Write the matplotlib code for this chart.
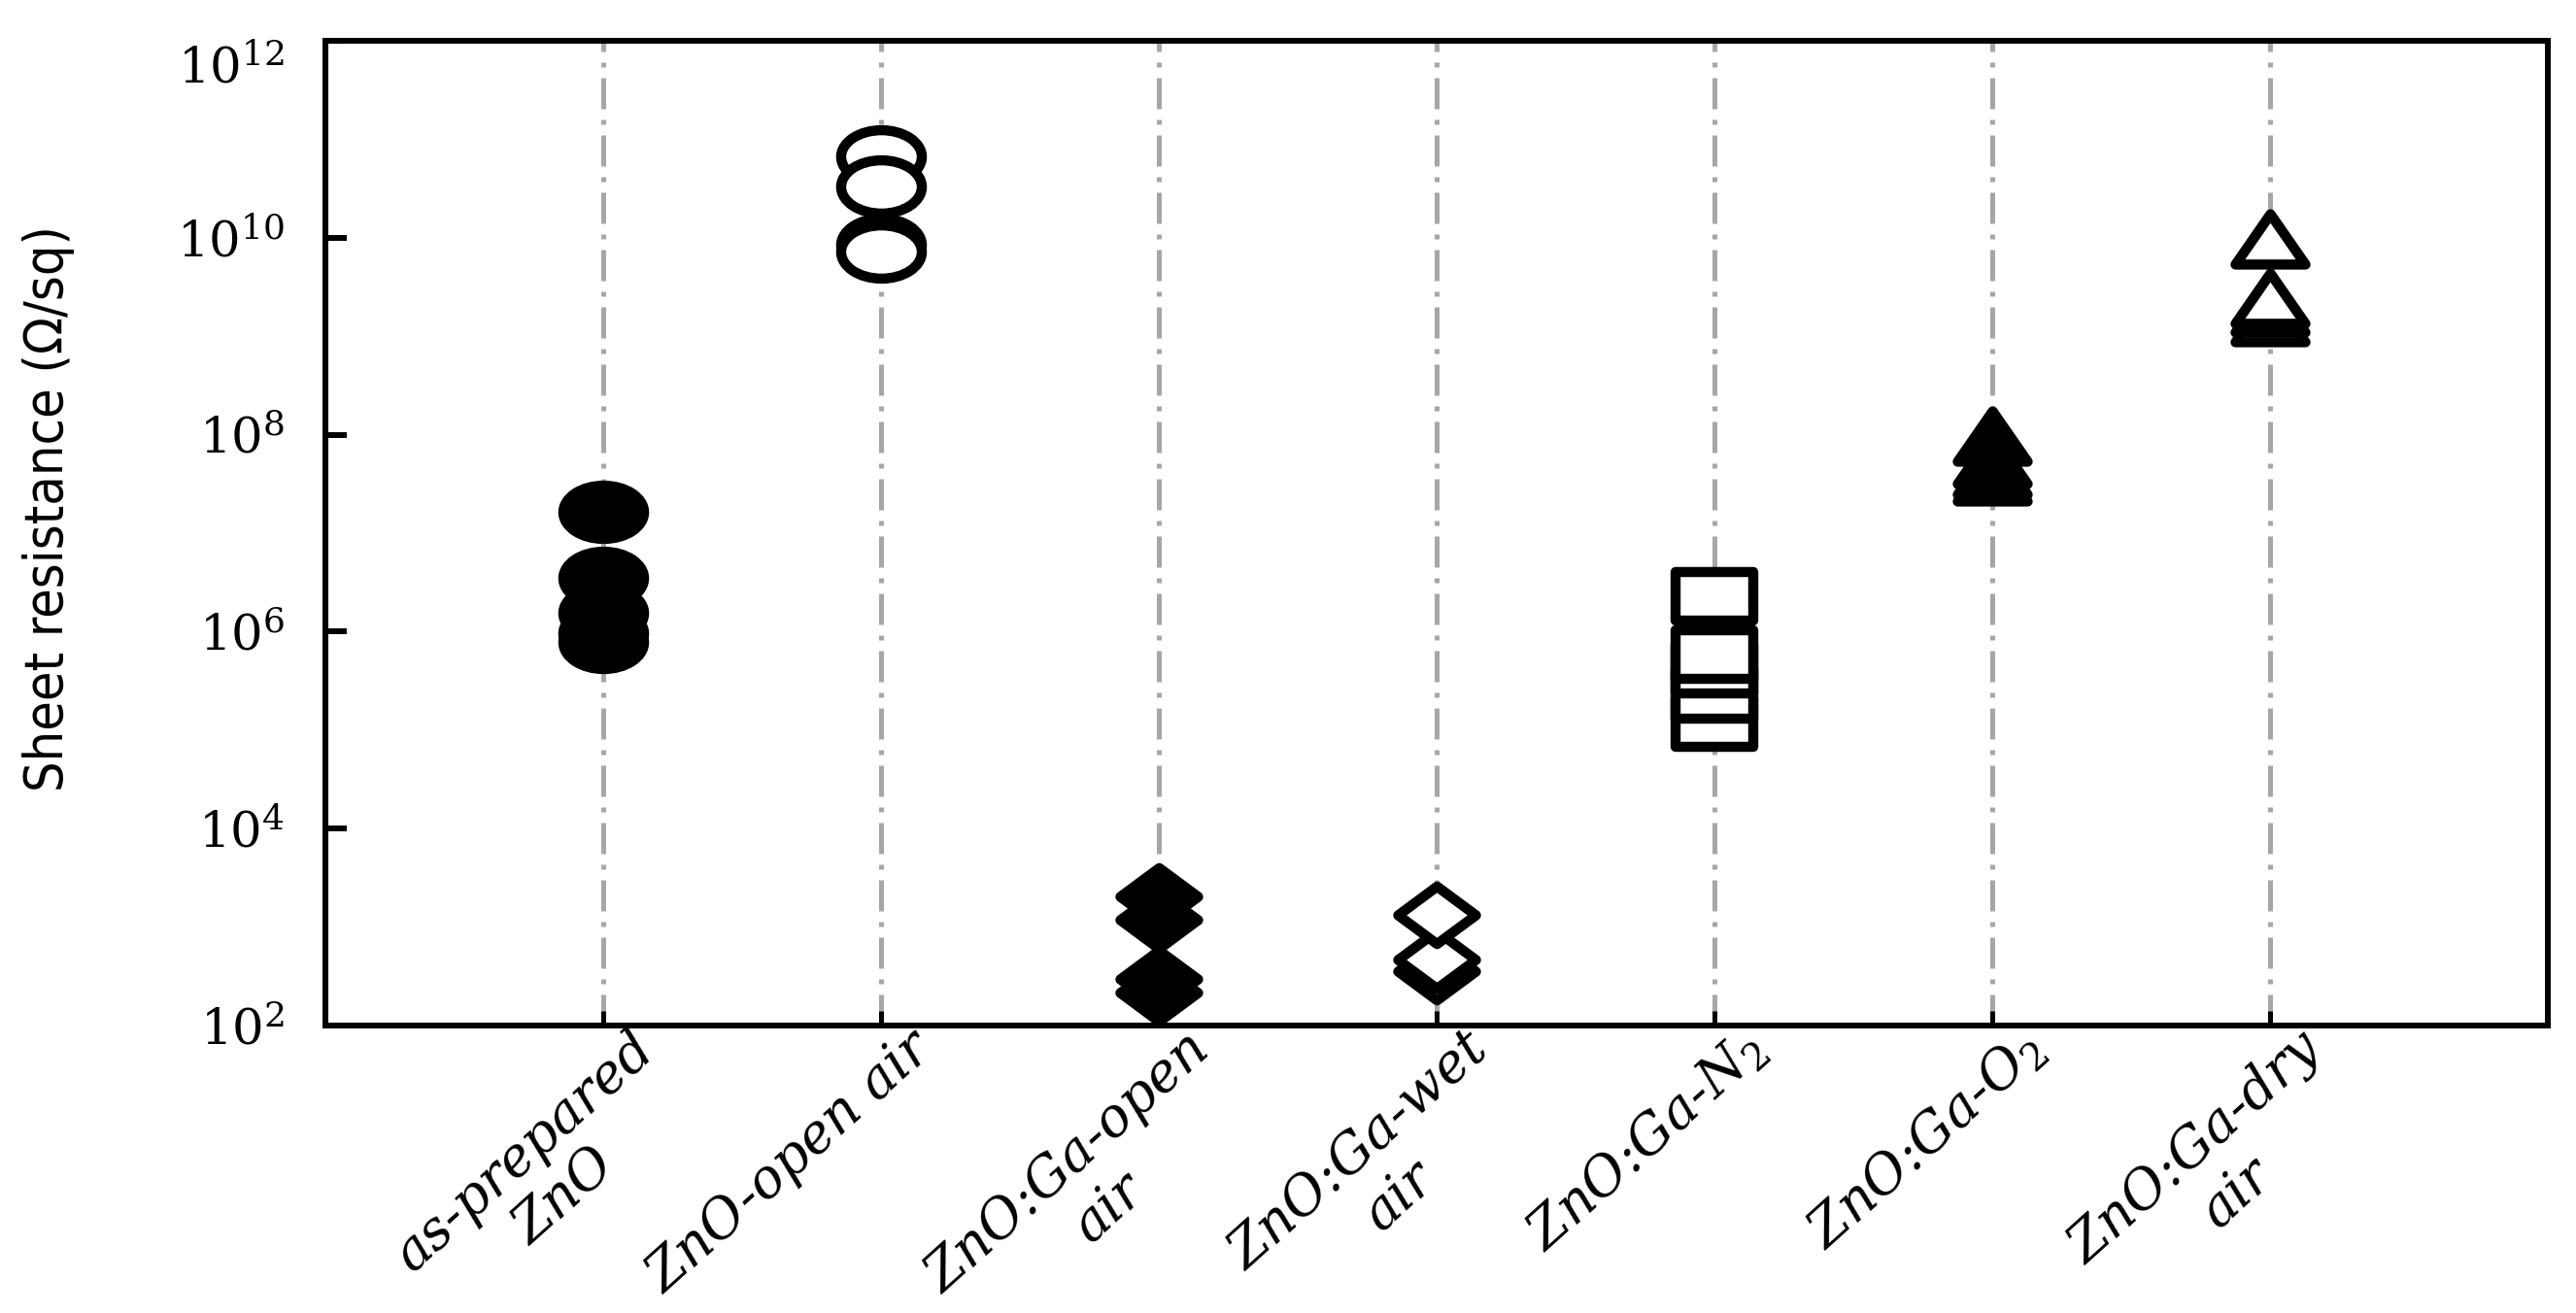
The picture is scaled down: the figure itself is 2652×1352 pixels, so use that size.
import numpy as np
import matplotlib
matplotlib.use("Agg")
import matplotlib.pyplot as plt
from matplotlib.path import Path
from matplotlib.markers import MarkerStyle
import matplotlib.transforms as mtrans

# ---------------- data ----------------
categories = ["as-prepared\nZnO", "ZnO-open air", "ZnO:Ga-open\nair", "ZnO:Ga-wet\nair",
              "ZnO:Ga-N$_2$", "ZnO:Ga-O$_2$", "ZnO:Ga-dry\nair"]
# values listed in drawing order (later points drawn on top)
as_prepared_zno = [1.65e7, 3.5e6, 1.55e6, 9.6e5, 7.9e5]
zno_open_air = [6.7e10, 8.5e9, 7.2e9, 3.3e10]
ga_open_air = [2.05e3, 1.2e3, 3.0e2, 2.17e2]
ga_wet_air = [3.55e2, 4.7e2, 1.33e3]
ga_n2 = [1.19e5, 2.31e5, 4.13e5, 5.9e5, 2.26e6]
ga_o2 = [9.7e7, 5.8e7, 4.5e7, 3.8e7]
ga_dry_air = [1.6e9, 2.0e9, 2.45e9, 9.7e9]
ytick_exps = [2, 4, 6, 8, 10, 12]

# ---------------- marker shapes (horizontally stretched) ----------------
circ = Path.unit_circle()
ellipse = Path(circ.vertices * np.array([1.0, 0.66]), circ.codes)
diamond = Path([(0, 0.74), (1, 0), (0, -0.74), (-1, 0), (0, 0.74)],
               [Path.MOVETO, Path.LINETO, Path.LINETO, Path.LINETO, Path.CLOSEPOLY])
rect = Path([(-1, -0.64), (1, -0.64), (1, 0.64), (-1, 0.64), (-1, -0.64)],
            [Path.MOVETO, Path.LINETO, Path.LINETO, Path.LINETO, Path.CLOSEPOLY])
tri = Path([(0, 0.72), (-1, -0.72), (1, -0.72), (0, 0.72)],
           [Path.MOVETO, Path.LINETO, Path.LINETO, Path.CLOSEPOLY])

plt.rcParams["mathtext.fontset"] = "dejavuserif"

W, H, DPI = 2652, 1352, 100
fig = plt.figure(figsize=(W / DPI, H / DPI), dpi=DPI)
ax = fig.add_axes([335 / W, 1 - 1056 / H, (2623 - 335) / W, (1056 - 42) / H])

series = [
    (as_prepared_zno, ellipse, "black", "round", 59.8),
    (zno_open_air, ellipse, "white", "round", 59.8),
    (ga_open_air, diamond, "black", "miter", 57.6),
    (ga_wet_air, diamond, "white", "miter", 57.6),
    (ga_n2, rect, "white", "round", 57.0),
    (ga_o2, tri, "black", "miter", 51.8),
    (ga_dry_air, tri, "white", "miter", 51.8),
]
for i, (vals, shape, face, join, ms) in enumerate(series):
    xs = [i + 1] * len(vals)
    ax.plot(xs, vals, linestyle="none",
            marker=MarkerStyle(shape, joinstyle=join),
            markersize=ms, markerfacecolor=face, markeredgecolor="black",
            markeredgewidth=7.5, zorder=3, clip_on=False)

ax.set_yscale("log")
ax.set_ylim(1e2, 1e12)
ax.set_xlim(0, 8)
ax.set_yticks([10.0 ** e for e in ytick_exps])
ax.set_yticklabels([r"$\mathregular{10^{%d}}$" % e for e in ytick_exps],
                   fontfamily="DejaVu Serif", fontsize=37)
ax.yaxis.set_minor_locator(matplotlib.ticker.NullLocator())
ax.set_xticks(range(1, len(categories) + 1))
ax.set_xticklabels([""] * len(categories))

ax.tick_params(axis="y", direction="in", length=16, width=4.3, pad=30)
ax.tick_params(axis="x", direction="in", length=10.8, width=3.6)
for sp in ax.spines.values():
    sp.set_linewidth(4.3)
    sp.set_color("black")

ax.set_axisbelow(True)
ax.xaxis.grid(True, color="#A6A6A6", linewidth=3.6,
              linestyle=(0, (6.4, 2.2, 1.0, 2.2)))

# shift the top tick label down as in the original
top_tick = ax.yaxis.get_major_ticks()[-1]
top_tick.label1.set_transform(top_tick.label1.get_transform() +
                              mtrans.ScaledTranslation(0, -0.24, fig.dpi_scale_trans))

# category labels: rotated, each line centred under the longest one
renderer = fig.canvas.get_renderer()
lab_fs = 40
lab_kw = dict(fontfamily="DejaVu Serif", fontstyle="italic", fontsize=lab_fs)
ang = np.deg2rad(42)
u = np.array([np.cos(ang), np.sin(ang)])
nvec = np.array([np.sin(ang), -np.cos(ang)])
line_h = lab_fs * DPI / 72 * 1.12
for i, lab in enumerate(categories):
    lines = lab.split("\n")
    widths = []
    for ln in lines:
        t = fig.text(0, 0, ln, **lab_kw)
        widths.append(t.get_window_extent(renderer).width)
        t.remove()
    wmax = max(widths)
    px, py = ax.transData.transform((i + 1, 1e2))
    P = np.array([px + 24, py + 6])
    for k, ln in enumerate(lines):
        c = P - u * (wmax / 2) + nvec * (line_h * (k + 0.5))
        fig.text(c[0] / W, c[1] / H, ln, rotation=42, rotation_mode="anchor",
                 ha="center", va="center", **lab_kw)

fig.text(50 / W, 1 - 524 / H, "Sheet resistance (\u03a9/sq)", rotation=90,
         ha="center", va="center", fontsize=40,
         fontfamily=["Liberation Sans Narrow", "DejaVu Sans"], fontstretch="condensed")

fig.savefig("out.png", dpi=DPI)
